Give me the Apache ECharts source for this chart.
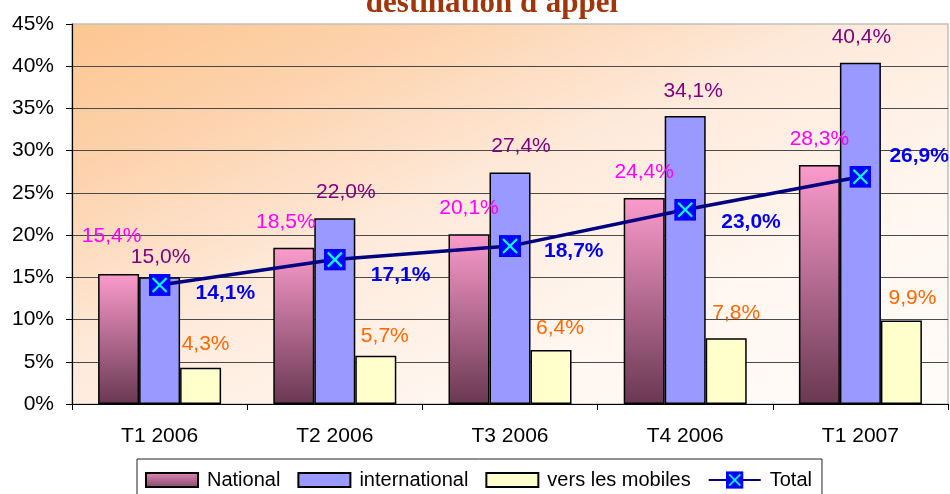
<!DOCTYPE html>
<html>
<head>
<meta charset="utf-8">
<script src="https://cdn.jsdelivr.net/npm/echarts@6/dist/echarts.min.js"></script>
<style>
  html, body { margin: 0; padding: 0; background: #fff; }
  #chart { width: 950px; height: 494px; }
</style>
</head>
<body>
<div id="chart"></div>
<script>
// valeurs (en %)
var periodes = ['T1 2006', 'T2 2006', 'T3 2006', 'T4 2006', 'T1 2007'];
var national = [15.4, 18.5, 20.1, 24.4, 28.3];
var international = [15.0, 22.0, 27.4, 34.1, 40.4];
var mobiles = [4.3, 5.7, 6.4, 7.8, 9.9];
var total = [14.1, 17.1, 18.7, 23.0, 26.9];

// décalages des étiquettes (placées à la main dans l'original)
var offNat = [[-7, -12], [-8, 0], [0, -1], [0, 0], [0, 0]];
var offInt = [[1, 5], [11, -1], [11, -1], [8, 1], [1, 0]];
var offMob = [[5, -1], [9, 3], [9, 1], [10, -2], [11, 0]];
var offTot = [[20, 8], [20, 16], [18, 5], [20, 12], [13, -21]];

function pct(v) { return v.toFixed(1).replace('.', ',') + '%'; }
function withOffsets(vals, offs) {
  return vals.map(function (v, i) { return { value: v, label: { offset: offs[i] } }; });
}

var marker = 'image://data:image/svg+xml;utf8,' + encodeURIComponent(
  '<svg xmlns="http://www.w3.org/2000/svg" width="22" height="22">' +
  '<rect width="22" height="22" fill="#0000ff"/>' +
  '<path d="M4 4L18 18M18 4L4 18" stroke="#00ffff" stroke-width="2.2"/></svg>');
// rectangle de légende moins haut que la case (points fantômes en haut/bas)
var barIcon = 'path://M0,0L0,0M0,4L52,4L52,18L0,18ZM0,22L0,22';

var font = 'Liberation Sans, Arial, sans-serif';
var myChart = echarts.init(document.getElementById('chart'));
var option = {
  backgroundColor: '#fff',
  animation: false,
  title: {
    text: "destination d'appel",
    left: 492,
    top: -12,
    padding: 0,
    textAlign: 'center',
    textStyle: { fontFamily: 'Liberation Serif, Times New Roman, serif', fontWeight: 'bold', fontSize: 31, color: '#a0360a' }
  },
  grid: {
    left: 72, right: 2, top: 24, bottom: 90,
    show: true,
    borderColor: '#c0c0c0', borderWidth: 1.5,
    backgroundColor: new echarts.graphic.LinearGradient(0, 0, 0.317, 1.683, [
      { offset: 0, color: '#fdc690' },
      { offset: 0.2, color: '#fdd2ac' },
      { offset: 0.45, color: '#feeadb' },
      { offset: 0.7, color: '#fff6ef' },
      { offset: 1, color: '#fffcfa' }
    ])
  },
  legend: {
    top: 459,
    left: 137,
    padding: [9, 10, 30, 8],
    itemGap: 17,
    itemWidth: 52,
    itemHeight: 22,
    borderColor: '#222',
    borderWidth: 1,
    textStyle: { fontFamily: font, fontSize: 20, color: '#000', padding: [0, 0, 0, 4] },
    data: [
      { name: 'National', icon: barIcon },
      { name: 'international', icon: barIcon },
      { name: 'vers les mobiles', icon: barIcon },
      { name: 'Total' }
    ]
  },
  xAxis: {
    type: 'category',
    data: periodes,
    axisLine: { lineStyle: { color: '#000', width: 1.2 } },
    axisTick: { show: true, length: 6, lineStyle: { color: '#000' } },
    axisLabel: { color: '#000', fontFamily: font, fontSize: 21, margin: 22 }
  },
  yAxis: {
    type: 'value',
    min: 0, max: 45, interval: 5,
    axisLine: { show: true, lineStyle: { color: '#000', width: 1.2 } },
    axisTick: { show: true, length: 6, lineStyle: { color: '#000' } },
    axisLabel: { color: '#000', fontFamily: font, fontSize: 21, margin: 18, formatter: '{value}%' },
    splitLine: { show: true, showMaxLine: false, lineStyle: { color: '#4a4a4a', width: 1.2 } }
  },
  series: [
    {
      name: 'National', type: 'bar', barWidth: 41, barGap: '0%',
      data: withOffsets(national, offNat),
      itemStyle: {
        color: new echarts.graphic.LinearGradient(0, 0, 0, 1, [
          { offset: 0, color: '#fb9bcc' },
          { offset: 1, color: '#693852' }
        ]),
        borderColor: '#000', borderWidth: 1.5
      },
      label: { show: true, position: 'top', distance: 15, color: '#ff00ff', fontFamily: font, fontSize: 21,
        formatter: function (p) { return pct(p.value); } }
    },
    {
      name: 'international', type: 'bar', barWidth: 41, barGap: '0%',
      data: withOffsets(international, offInt),
      itemStyle: { color: '#9999ff', borderColor: '#000', borderWidth: 1.5 },
      label: { show: true, position: 'top', distance: 15, color: '#800080', fontFamily: font, fontSize: 21,
        formatter: function (p) { return pct(p.value); } }
    },
    {
      name: 'vers les mobiles', type: 'bar', barWidth: 41, barGap: '0%',
      data: withOffsets(mobiles, offMob),
      itemStyle: { color: '#ffffcc', borderColor: '#000', borderWidth: 1.5 },
      label: { show: true, position: 'top', distance: 12, color: '#ff6600', fontFamily: font, fontSize: 21,
        formatter: function (p) { return pct(p.value); } }
    },
    {
      name: 'Total', type: 'line',
      data: withOffsets(total, offTot),
      symbol: marker, symbolSize: 22,
      lineStyle: { color: '#000080', width: 3.5 },
      itemStyle: { color: '#000080' },
      z: 5,
      label: { show: true, position: 'right', distance: 5, color: '#0000ee', fontFamily: font, fontSize: 21, fontWeight: 'bold',
        formatter: function (p) { return pct(p.value); } }
    }
  ]
};
myChart.setOption(option);
</script>
</body>
</html>
